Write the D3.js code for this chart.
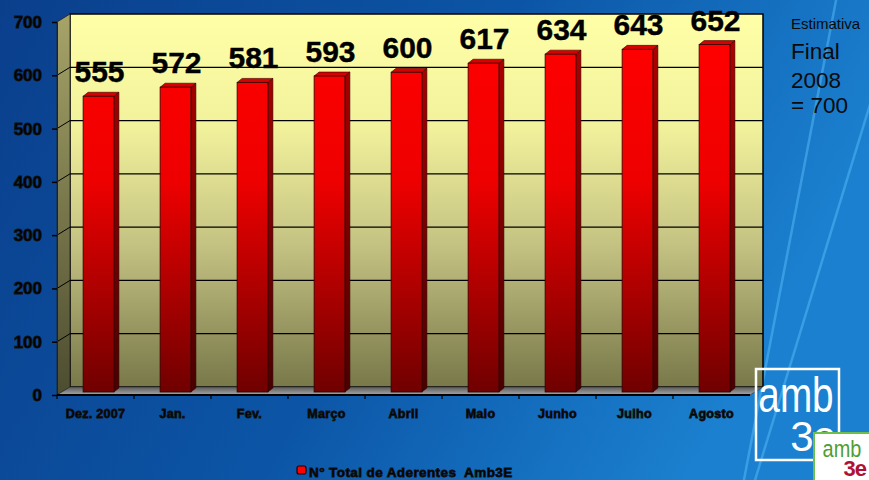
<!DOCTYPE html>
<html>
<head>
<meta charset="utf-8">
<script src="https://cdn.jsdelivr.net/npm/d3@7"></script>
<style>
  body { margin: 0; background: #0b4590; }
  svg { display: block; font-family: "Liberation Sans", Arial, sans-serif; }
</style>
</head>
<body>
<div id="chart"></div>
<script>
const categories = ['Dez. 2007', 'Jan.', 'Fev.', 'Março', 'Abril', 'Maio', 'Junho', 'Julho', 'Agosto'];
const values = [555, 572, 581, 593, 600, 617, 634, 643, 652];
const yTicks = [0, 100, 200, 300, 400, 500, 600, 700];
const legendLabel = 'N° Total de Aderentes  Amb3E';
const noteLines = ['Estimativa', 'Final', '2008', '= 700'];

const width = 869;
const height = 480;

// 3d offsets
const wall = {dx: 13, dy: -8};
const barOff = {dx: 3, dy: -3};
const barDepth = {dx: 5, dy: -4};

const svg = d3.select('#chart')
  .append('svg')
  .attr('width', width)
  .attr('height', height);

const defs = svg.append('defs');

function grad(id, stops, x1, y1, x2, y2, user) {
  const g = defs.append('linearGradient')
    .attr('id', id)
    .attr('x1', x1).attr('y1', y1).attr('x2', x2).attr('y2', y2);
  if (user) g.attr('gradientUnits', 'userSpaceOnUse');
  stops.forEach(s => g.append('stop').attr('offset', s[0]).attr('stop-color', s[1]));
}

grad('bg', [[0, '#0a3f8c'], [0.55, '#0c55a6'], [0.85, '#1672c2'], [1, '#1b80cf']], 0, 0, 1, 0.3);
grad('backwall', [[0, '#ffffa8'], [0.3, '#f2f29c'], [0.62, '#c4c282'], [1, '#78784a']], 0, 0, 0, 1);
grad('sidewall', [[0, '#a6a468'], [1, '#4c4c30']], 0, 0, 0, 1);
grad('floor', [[0, '#5a5a5a'], [1, '#a8a8a8']], 0, 0, 0, 1);
grad('barFront', [[0, '#ff0000'], [0.4, '#ee0000'], [1, '#6e0000']], 0, 40, 0, 395, true);
grad('barSide', [[0, '#b00000'], [1, '#480000']], 0, 40, 0, 395, true);

// background
svg.append('rect')
  .attr('width', width)
  .attr('height', height)
  .attr('fill', 'url(#bg)');

// light streaks
const streaks = [[[838, -10], [742, 490]], [[905, -10], [752, 490]]];
svg.append('g')
  .selectAll('path')
  .data(streaks)
  .enter().append('path')
    .attr('d', d => d3.line()(d))
    .attr('stroke', '#5fc3ff')
    .attr('stroke-opacity', 0.45)
    .attr('stroke-width', 2.5)
    .attr('fill', 'none');

const xOuter = d3.scaleBand()
  .domain(categories)
  .range([57, 750]);

const x = d3.scaleBand()
  .domain(categories)
  .range([57, 750])
  .paddingInner(0.6)
  .paddingOuter(0.3);

const y = d3.scaleLinear()
  .domain([0, 700])
  .range([395, 22]);

const x0 = xOuter.range()[0];
const x1 = xOuter.range()[1];
const yTop = y(700);
const yBot = y(0);

const plot = svg.append('g');

// back wall
plot.append('rect')
  .attr('x', x0 + wall.dx)
  .attr('y', yTop + wall.dy)
  .attr('width', x1 - x0)
  .attr('height', yBot - yTop)
  .attr('fill', 'url(#backwall)')
  .attr('stroke', '#000')
  .attr('stroke-width', 1.5);

// left wall
plot.append('path')
  .attr('d', d3.line()([
    [x0, yTop], [x0 + wall.dx, yTop + wall.dy],
    [x0 + wall.dx, yBot + wall.dy], [x0, yBot]
  ]) + 'Z')
  .attr('fill', 'url(#sidewall)')
  .attr('stroke', '#222')
  .attr('stroke-width', 0.8);

// floor
plot.append('path')
  .attr('d', d3.line()([
    [x0, yBot], [x0 + wall.dx, yBot + wall.dy],
    [x1 + wall.dx, yBot + wall.dy], [x1, yBot]
  ]) + 'Z')
  .attr('fill', 'url(#floor)')
  .attr('stroke', '#333')
  .attr('stroke-width', 0.6);

// gridlines
const grid = plot.append('g')
  .selectAll('g')
  .data(yTicks.filter(t => t > 0 && t < 700))
  .enter().append('g');

grid.append('line')
  .attr('x1', x0 + wall.dx)
  .attr('x2', x1 + wall.dx)
  .attr('y1', d => y(d) + wall.dy)
  .attr('y2', d => y(d) + wall.dy)
  .attr('stroke', '#000')
  .attr('stroke-width', 1.2);

grid.append('line')
  .attr('x1', x0)
  .attr('x2', x0 + wall.dx)
  .attr('y1', d => y(d))
  .attr('y2', d => y(d) + wall.dy)
  .attr('stroke', '#000')
  .attr('stroke-width', 1);

// bars
const bars = plot.append('g')
  .selectAll('g')
  .data(values)
  .enter().append('g');

const bx = (d, i) => x(categories[i]) + barOff.dx;
const by = d => y(d) + barOff.dy;
const bw = x.bandwidth();
const bBot = yBot + barOff.dy;

bars.append('path')
  .attr('d', (d, i) => {
    const l = bx(d, i) + bw, t = by(d);
    return d3.line()([[l, t], [l + barDepth.dx, t + barDepth.dy],
      [l + barDepth.dx, bBot + barDepth.dy], [l, bBot]]) + 'Z';
  })
  .attr('fill', 'url(#barSide)')
  .attr('stroke', '#300000')
  .attr('stroke-width', 0.6);

bars.append('path')
  .attr('d', (d, i) => {
    const l = bx(d, i), t = by(d);
    return d3.line()([[l, t], [l + barDepth.dx, t + barDepth.dy],
      [l + bw + barDepth.dx, t + barDepth.dy], [l + bw, t]]) + 'Z';
  })
  .attr('fill', '#d80000')
  .attr('stroke', '#300000')
  .attr('stroke-width', 0.6);

bars.append('rect')
  .attr('x', bx)
  .attr('y', by)
  .attr('width', bw)
  .attr('height', d => bBot - by(d))
  .attr('fill', 'url(#barFront)')
  .attr('stroke', '#300000')
  .attr('stroke-width', 0.8);

// value labels
bars.append('text')
  .attr('x', (d, i) => bx(d, i) + bw / 2 + 1)
  .attr('y', d => by(d) - 14)
  .attr('text-anchor', 'middle')
  .attr('font-size', 30)
  .attr('font-weight', 'bold')
  .attr('fill', '#000')
  .attr('stroke', '#000')
  .attr('stroke-width', 0.4)
  .text(d => d);

// y axis
const yAxis = svg.append('g')
  .attr('transform', `translate(${x0},0)`)
  .call(d3.axisLeft(y).tickValues(yTicks).tickSize(5).tickPadding(10).tickFormat(d3.format('d')));

yAxis.select('.domain').attr('stroke', '#222').attr('stroke-width', 1);
yAxis.selectAll('.tick line').attr('stroke', '#000').attr('stroke-width', 1.5);
yAxis.selectAll('.tick text')
  .attr('font-family', '"Liberation Sans", Arial, sans-serif')
  .attr('font-size', 17)
  .attr('font-weight', 'bold')
  .attr('fill', '#000')
  .attr('stroke', '#111')
  .attr('stroke-width', 0.9);

// x axis
const xAxis = svg.append('g');

xAxis.append('line')
  .attr('x1', x0)
  .attr('x2', x1)
  .attr('y1', yBot)
  .attr('y2', yBot)
  .attr('stroke', '#000')
  .attr('stroke-width', 2);

xAxis.selectAll('.xt')
  .data(categories)
  .enter().append('line')
    .attr('class', 'xt')
    .attr('x1', d => xOuter(d))
    .attr('x2', d => xOuter(d))
    .attr('y1', yBot)
    .attr('y2', yBot + 4)
    .attr('stroke', '#000')
    .attr('stroke-width', 1.2);

xAxis.selectAll('.xl')
  .data(categories)
  .enter().append('text')
    .attr('class', 'xl')
    .attr('x', d => xOuter(d) + xOuter.bandwidth() / 2)
    .attr('y', 418)
    .attr('text-anchor', 'middle')
    .attr('font-size', 12.5)
    .attr('font-weight', 'bold')
    .attr('letter-spacing', 0.3)
    .attr('fill', '#000')
    .attr('stroke', '#111')
    .attr('stroke-width', 0.8)
    .text(d => d);

// legend
const legend = svg.append('g');

legend.append('rect')
  .attr('x', 297)
  .attr('y', 466)
  .attr('width', 9)
  .attr('height', 8)
  .attr('rx', 2)
  .attr('fill', '#ff0000')
  .attr('stroke', '#200000')
  .attr('stroke-width', 1.2);

legend.append('text')
  .attr('x', 309)
  .attr('y', 477)
  .attr('font-size', 13.5)
  .attr('font-weight', 'bold')
  .attr('letter-spacing', 0.4)
  .attr('fill', '#000')
  .attr('stroke', '#111')
  .attr('stroke-width', 0.8)
  .attr('xml:space', 'preserve')
  .style('white-space', 'pre')
  .text(legendLabel);

// note on the right
const noteSizes = [15, 22.5, 22.5, 22.5];
const noteY = [29, 59, 88, 113];
svg.append('g')
  .selectAll('text')
  .data(noteLines)
  .enter().append('text')
    .attr('x', 791)
    .attr('y', (d, i) => noteY[i])
    .attr('font-size', (d, i) => noteSizes[i])
    .attr('fill', '#0a0a0a')
    .text(d => d);

// logo (large)
const logo = svg.append('g');
logo.append('rect')
  .attr('x', 756)
  .attr('y', 369)
  .attr('width', 83)
  .attr('height', 91)
  .attr('fill', 'none')
  .attr('stroke', '#fff')
  .attr('stroke-width', 2.5);
logo.append('text')
  .attr('transform', 'translate(796,412) scale(0.9,1.15)')
  .attr('text-anchor', 'middle')
  .attr('font-size', 43)
  .attr('fill', '#fff')
  .text('amb');
logo.append('text')
  .attr('x', 835)
  .attr('y', 451)
  .attr('text-anchor', 'end')
  .attr('font-size', 42)
  .attr('letter-spacing', -1)
  .attr('fill', '#fff')
  .text('3e');

// logo (small)
const small = svg.append('g');
small.append('rect')
  .attr('x', 814)
  .attr('y', 433)
  .attr('width', 56)
  .attr('height', 50)
  .attr('fill', '#fff')
  .attr('stroke', '#6cbf4a')
  .attr('stroke-width', 2);
small.append('text')
  .attr('transform', 'translate(842,457) scale(0.95,1.15)')
  .attr('text-anchor', 'middle')
  .attr('font-size', 21)
  .attr('fill', '#4f9e32')
  .text('amb');
small.append('text')
  .attr('x', 866)
  .attr('y', 476)
  .attr('text-anchor', 'end')
  .attr('font-size', 22)
  .attr('font-weight', 'bold')
  .attr('letter-spacing', -1)
  .attr('fill', '#b01035')
  .text('3e');
</script>
</body>
</html>
